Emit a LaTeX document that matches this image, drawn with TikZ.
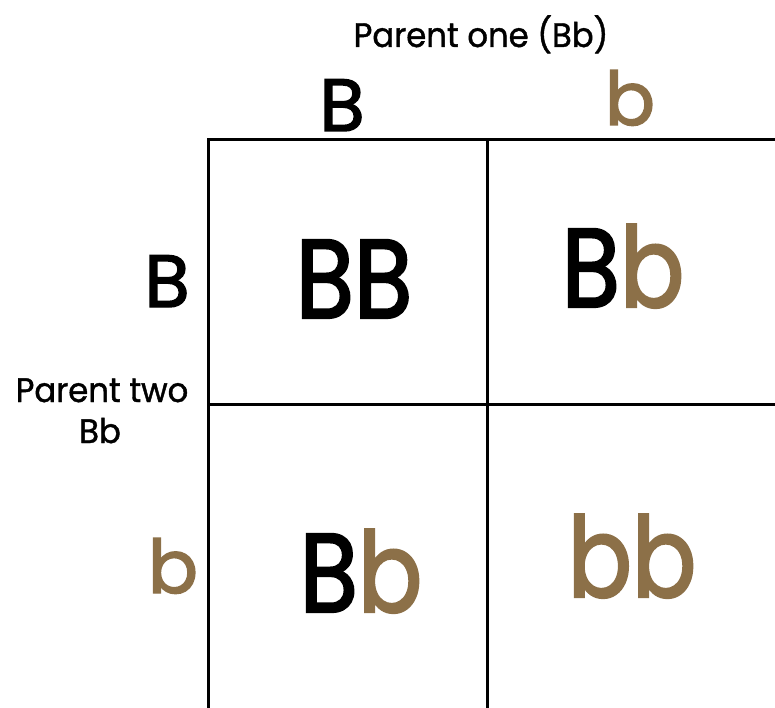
\documentclass[tikz,border=0pt]{standalone}
\usepackage{fontspec}
\setmainfont{Poppins}
\newfontfamily\cellfont[FakeBold=2,FakeStretch=0.85]{Poppins}
\newfontfamily\hdrfont[FakeBold=2]{Poppins}
\newfontfamily\lblfont[FakeBold=1.2,FakeStretch=0.95]{Poppins}
\definecolor{allbrown}{RGB}{140,112,72}
\tikzset{
  gridline/.style={line width=3pt, black},
  lbl/.style={inner sep=0pt, anchor=base, font=\lblfont\fontsize{34}{34}\selectfont},
  hdr/.style={inner sep=0pt, anchor=base, font=\hdrfont\fontsize{74}{74}\selectfont},
  cellt/.style={inner sep=0pt, anchor=base, font=\cellfont\fontsize{112}{112}\selectfont},
}
\begin{document}
\begin{tikzpicture}[x=1pt,y=-1pt]
\useasboundingbox (0,0) rectangle (775,708);
\begin{scope}
\clip (0,0) rectangle (775,708);
% grid
\coordinate (tl) at (208,140);
\coordinate (tr) at (780,140);
\coordinate (bl) at (208,712);
\coordinate (tm) at (487,140);
\coordinate (bm) at (487,712);
\coordinate (ml) at (208,404);
\coordinate (mr) at (780,404);
\draw[gridline] (tr) -- (tl) -- (bl);
\draw[gridline] (tm) -- (bm);
\draw[gridline] (ml) -- (mr);
\end{scope}
% titles
\node[lbl] (p1) at (481,47) {Parent one (Bb)};
\node[lbl] (p2) at (102,402) {Parent two};
\node[lbl] (p2g) at (100,443) {Bb};
% headers
\node[hdr] (cB) at (342,131) {B};
\node[hdr, text=allbrown] (cb) at (630,125) {b};
\node[hdr] (rB) at (167,307) {B};
\node[hdr, text=allbrown] (rb) at (173,593) {b};
% cells
\node[cellt] (c11) at (354,318) {BB};
\node[cellt] (c12) at (623,307) {B\textcolor{allbrown}{b}};
\node[cellt] (c21) at (361,612) {B\textcolor{allbrown}{b}};
\node[cellt, text=allbrown] (c22) at (632,597) {bb};
\end{tikzpicture}
\end{document}
